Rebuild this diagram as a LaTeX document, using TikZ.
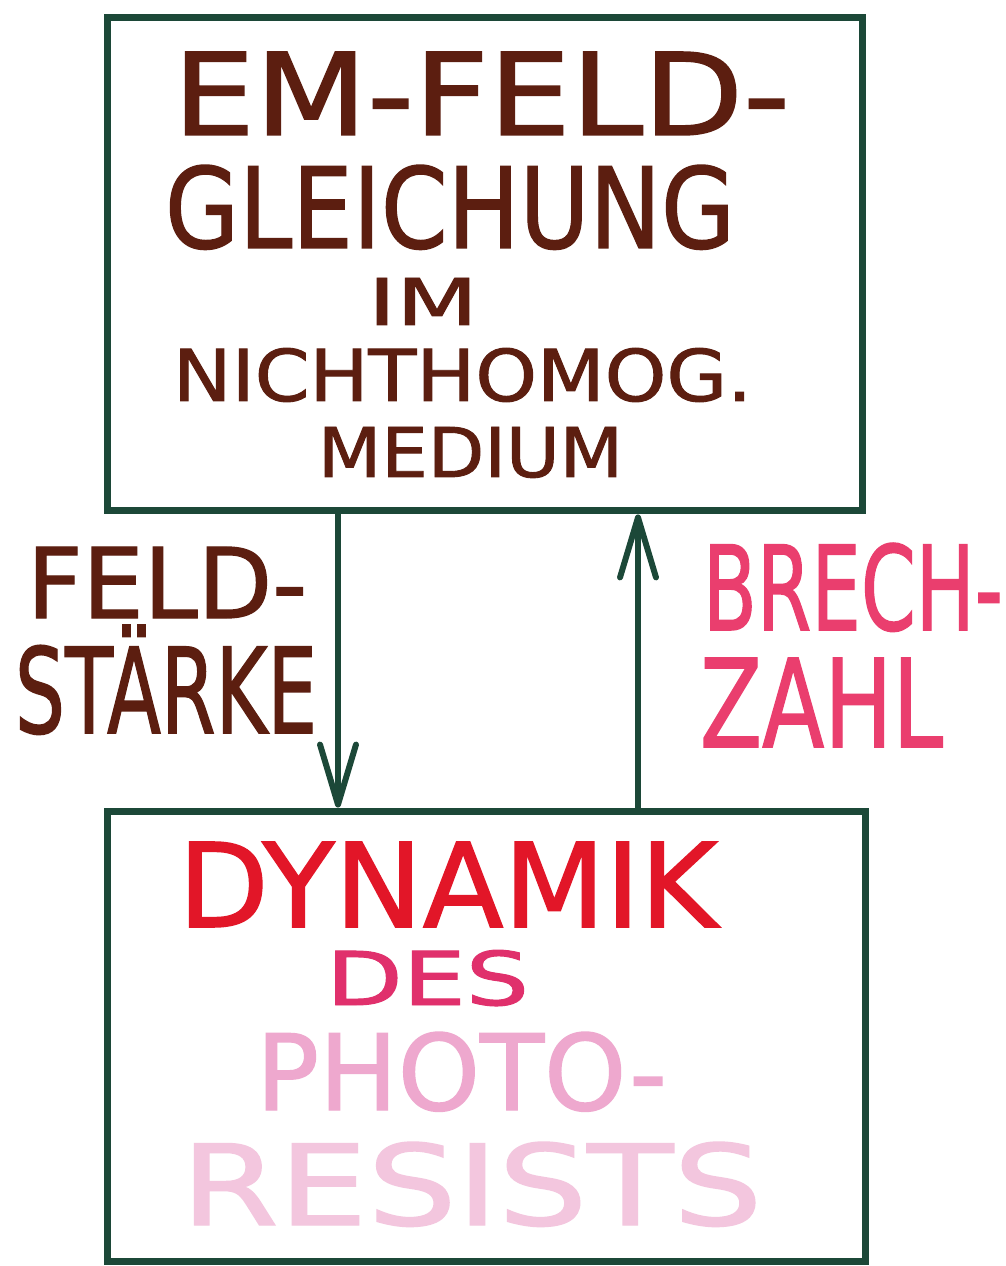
\documentclass[tikz,border=0pt]{standalone}
\usepackage{fontspec}
\setmainfont{DejaVu Sans}
% slightly heavier strokes, like a felt marker
\newfontfamily\markerfont[FakeBold=1.3]{DejaVu Sans}
\usetikzlibrary{arrows.meta}

% one drawing unit = 0.02cm
\newlength\pxu
\setlength\pxu{0.02cm}
% set a line of lettering to a given width and cap height (in drawing units)
\newcommand\lettering[3]{\resizebox{#1\pxu}{#2\pxu}{\markerfont #3}}

\definecolor{markergreen}{RGB}{28,72,56}
\definecolor{markerbrown}{RGB}{92,30,16}
\definecolor{brechpink}{RGB}{234,62,110}
\definecolor{dynred}{RGB}{226,22,40}
\definecolor{despink}{RGB}{224,48,108}
\definecolor{photopink}{RGB}{238,168,206}
\definecolor{resistpink}{RGB}{243,198,222}

\begin{document}
\begin{tikzpicture}[x=0.02cm,y=-0.02cm,
  panel/.style={draw=markergreen, line width=4pt, rectangle, inner sep=0pt},
  word/.style={inner sep=0pt, outer sep=0pt, anchor=base west},
  flow/.style={draw=markergreen, line width=3.4pt,
    -{Straight Barb[length=1.2cm,width=0.72cm,round]}}]

\useasboundingbox[fill=white] (0,0) rectangle (1006,1266);

% the two panels
\node[panel, minimum width=15.12cm, minimum height=9.88cm] (em) at (485,264) {};
\node[panel, minimum width=15.18cm, minimum height=9.02cm] (dyn) at (486.5,1036.5) {};

% lettering of the upper panel
\node[word, text=markerbrown] (t1) at (173,135) {\lettering{617}{83}{EM-FELD-}};
\node[word, text=markerbrown] (t2) at (165,248) {\lettering{570}{83}{GLEICHUNG}};
\node[word, text=markerbrown] (t3) at (368,325) {\lettering{110}{47}{IM}};
\node[word, text=markerbrown] (t4) at (173,401) {\lettering{579}{53}{NICHTHOMOG.}};
\node[word, text=markerbrown] (t5) at (318,477) {\lettering{305}{50}{MEDIUM}};

% lettering of the lower panel
\node[word, text=dynred] (b1) at (178,927) {\lettering{539}{85}{DYNAMIK}};
\node[word, text=despink] (b2) at (326,1005) {\lettering{203}{55}{DES}};
\node[word, text=photopink] (b3) at (256,1110) {\lettering{411}{78}{PHOTO-}};
\node[word, text=resistpink] (b4) at (181,1225) {\lettering{581}{83}{RESISTS}};

% labels of the two connectors
\node[word, text=markerbrown] (l1) at (27,618) {\lettering{280}{71}{FELD-}};
\node[word, text=markerbrown] (l2) at (15,733) {\lettering{302}{108}{STÄRKE}};
\node[word, text=brechpink] (r1) at (703,630) {\lettering{300}{87}{BRECH-}};
\node[word, text=brechpink] (r2) at (700,747) {\lettering{243}{89}{ZAHL}};

% connectors
\coordinate (down) at (338,0);
\coordinate (up) at (638,0);
\draw[flow] (em.south -| down) -- (dyn.north -| down);
\draw[flow] (dyn.north -| up) -- (em.south -| up);

\end{tikzpicture}
\end{document}
